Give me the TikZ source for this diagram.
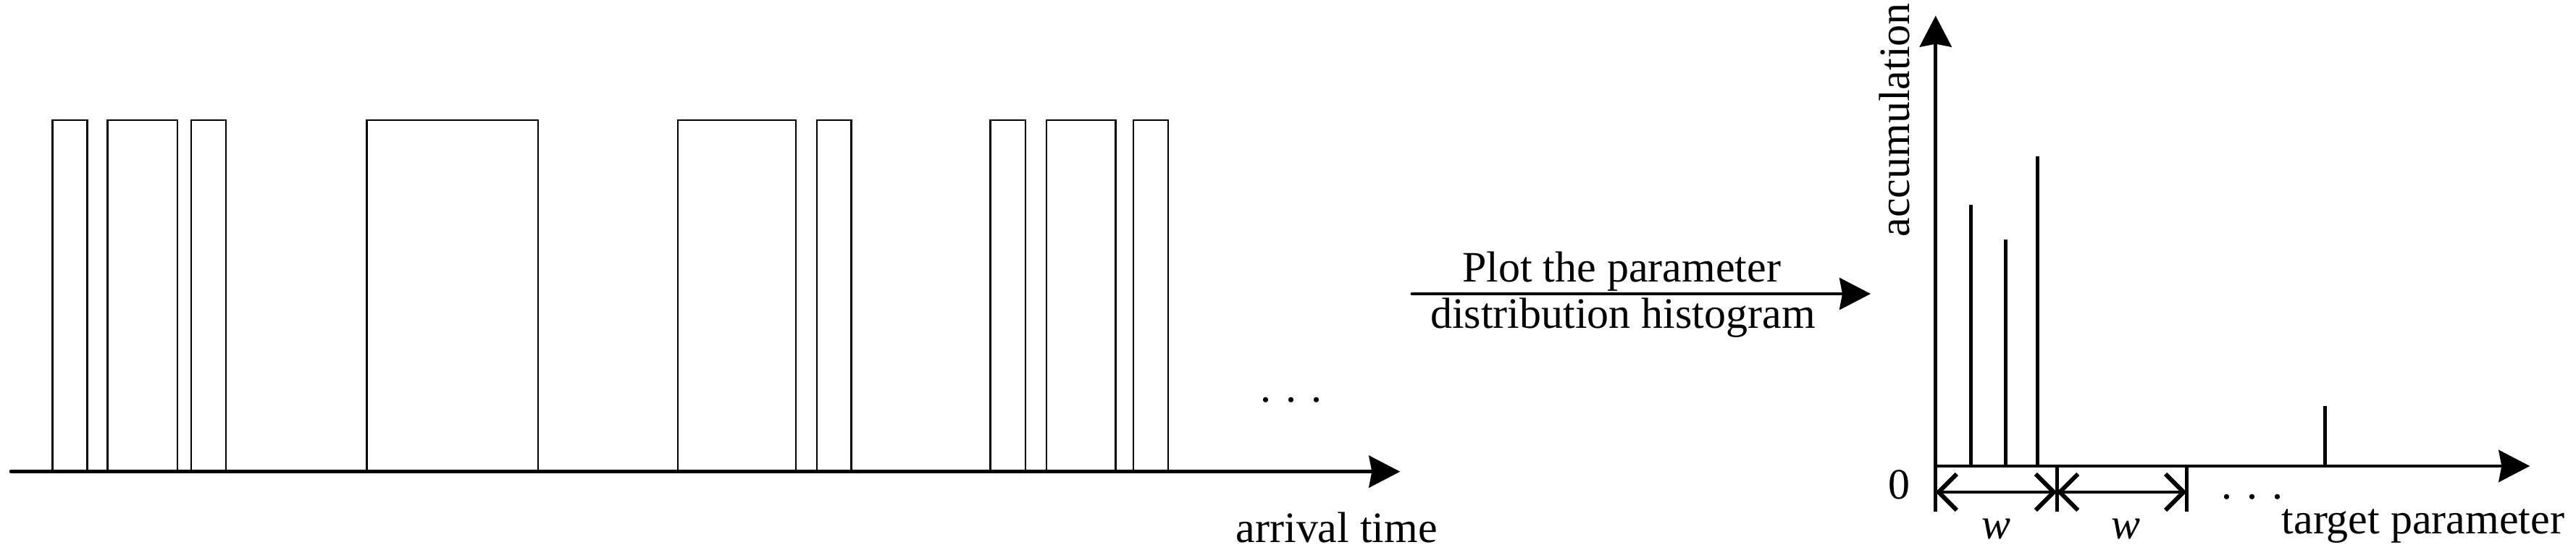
\documentclass[tikz,border=0pt]{standalone}
\usepackage{fontspec}
\setmainfont{Liberation Serif}
\usetikzlibrary{arrows.meta}
\tikzstyle{txt}=[inner sep=0pt, font=\fontsize{17.07}{20}\selectfont]
\tikzstyle{pulse}=[draw, line width=0.7pt]
\tikzstyle{spike}=[draw, line width=1.42pt]
\tikzstyle{axis}=[draw, line width=1.42pt, line cap=round,
  -{Stealth[length=4.3mm,width=4.4mm,inset=0.4mm]}]
\tikzstyle{dimline}=[draw, line width=1.42pt,
  {Straight Barb[length=2.5mm,width=5mm,line width=1.7pt]}-{Straight Barb[length=2.5mm,width=5mm,line width=1.7pt]}]
\newcommand{\spikeat}[2]{%
  \path [spike] (#1,1.15) -- (#1,#2);}

\begin{document}
\begin{tikzpicture}
  \useasboundingbox (0,0) rectangle (35.57,7.59);

  % Pulse train on the time axis
  \foreach \a/\b in {0.727/1.207, 1.485/2.449, 2.64/3.12, 5.066/7.43,
    9.36/10.99, 11.28/11.755, 13.677/14.16, 14.45/15.407, 15.65/16.13}
    \path [pulse] (\a,1.073) rectangle (\b,5.932);
  \coordinate (t0) at (0.152,1.073);
  \coordinate (t1) at (19.333,1.073);
  \path [axis] (t0) -- (t1);
  \node [txt, anchor=base] (tdots) at (17.83,2.033) {. . .};
  \node [txt, anchor=base west] (tname) at (17.06,0.097) {arrival time};

  % Step between the two plots
  \coordinate (m0) at (19.50,3.53);
  \coordinate (m1) at (25.83,3.53);
  \path [axis] (m0) -- (m1);
  \node [txt, anchor=base] (step1) at (22.39,3.69) {Plot the parameter};
  \node [txt, anchor=base] (step2) at (22.41,3.05) {distribution histogram};

  % Histogram axes
  \coordinate (h0) at (26.727,1.15);
  \coordinate (hy0) at (26.727,0.517);
  \coordinate (hy1) at (26.727,7.373);
  \coordinate (hx1) at (34.933,1.15);
  \path [axis, line cap=butt] (hy0) -- (hy1);
  \path [axis, line cap=butt] (h0) -- (hx1);
  \node [txt, rotate=90, anchor=base] (hname) at (26.36,5.932) {accumulation};
  \node [txt] (zero) at (26.22,0.89) {0};
  \node [txt, anchor=base west] (pname) at (31.50,0.22) {target parameter};
  \node [txt, anchor=base] (pdots) at (31.10,0.70) {. . .};

  % Accumulated values
  \spikeat{27.21}{4.757}
  \spikeat{27.69}{4.28}
  \spikeat{28.13}{5.43}
  \spikeat{32.10}{1.98}

  % Bin width marks
  \path [spike] (28.40,1.15) -- (28.40,0.517);
  \path [spike] (30.193,1.15) -- (30.193,0.517);
  \coordinate (w0) at (26.727,0.79);
  \coordinate (w1) at (28.40,0.79);
  \coordinate (w2) at (30.193,0.79);
  \path [dimline] (w0) -- (w1);
  \path [dimline] (w1) -- (w2);
  \node [txt, anchor=base] (wa) at (27.56,0.15) {\textit{w}};
  \node [txt, anchor=base] (wb) at (29.35,0.15) {\textit{w}};
\end{tikzpicture}
\end{document}
